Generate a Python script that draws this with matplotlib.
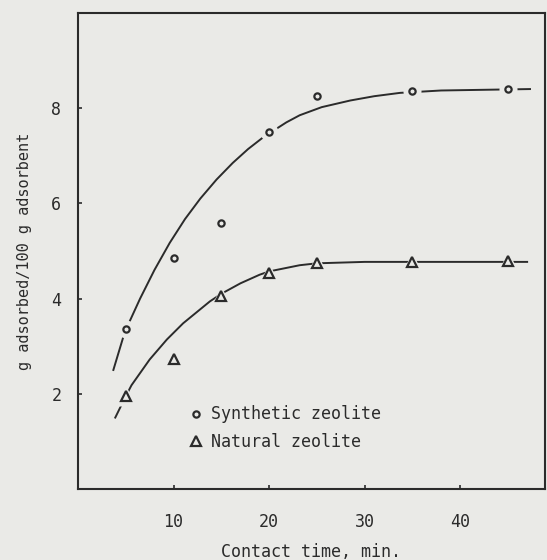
from matplotlib import pyplot as plt
from matplotlib.lines import Line2D

# measured points
time = [5, 10, 15, 20, 25, 35, 45]
synthetic = [3.35, 4.85, 5.58, 7.5, 8.25, 8.35, 8.4]
natural = [1.95, 2.72, 4.05, 4.53, 4.75, 4.77, 4.78]

# hand-drawn fitted curves
syn_fit_t = [3.7, 4.9, 6.5, 8.0, 9.6, 11.2, 12.8, 14.5, 16.2, 17.8, 19.4,
             21.8, 23.2, 25.5, 28.5, 31.0, 33.7, 38.0, 47.3]
syn_fit_y = [2.5, 3.3, 4.0, 4.6, 5.17, 5.67, 6.1, 6.5, 6.85, 7.14, 7.39,
             7.7, 7.85, 8.02, 8.16, 8.25, 8.32, 8.37, 8.4]
nat_fit_t = [3.9, 5.0, 5.6, 7.5, 9.3, 11.0, 13.8, 15.0, 17.0, 19.0, 20.0,
             23.2, 25.0, 30.0, 47.0]
nat_fit_y = [1.5, 1.95, 2.18, 2.72, 3.14, 3.48, 3.94, 4.1, 4.32, 4.5, 4.57,
             4.7, 4.74, 4.77, 4.77]

xticks = [10, 20, 30, 40]
yticks = [2, 4, 6, 8]

paper = '#eaeae7'
ink = '#2b2b2b'
plt.rcParams['font.family'] = ['DejaVu Sans Mono']

fig = plt.figure(figsize=(5.47, 5.6), dpi=100, facecolor=paper)
ax = fig.add_axes([0.1426, 0.1268, 0.8534, 0.8502], facecolor=paper)

ax.plot(syn_fit_t, syn_fit_y, color=ink, lw=1.4, zorder=2)
ax.plot(nat_fit_t, nat_fit_y, color=ink, lw=1.4, zorder=2)

# blank halo under markers so the curve breaks around them
ax.plot(time, synthetic, ls='none', marker='o', ms=13, mfc=paper, mec='none', zorder=3)
ax.plot(time, natural, ls='none', marker='^', ms=15, mfc=paper, mec='none', zorder=3)
ax.plot(time, synthetic, ls='none', marker='o', ms=4.5, mfc=paper, mec=ink, mew=1.6, zorder=4)
ax.plot(time, natural, ls='none', marker='^', ms=7, mfc=paper, mec=ink, mew=1.6, zorder=4)

ax.set_xlim(0, 48.85)
ax.set_ylim(0, 10)
ax.set_xticks(xticks)
ax.set_yticks(yticks)
ax.tick_params(direction='in', length=3, width=1.2, color=ink, labelcolor=ink, labelsize=12)
ax.tick_params(axis='x', pad=17)
ax.tick_params(axis='y', pad=12)
for s in ax.spines.values():
    s.set_linewidth(1.5)
    s.set_color(ink)

ax.set_xlabel('Contact time, min.', fontsize=12, color=ink, labelpad=9)
ax.set_ylabel('g adsorbed/100 g adsorbent', fontsize=11, color=ink, labelpad=14)

handles = [Line2D([], [], ls='none', marker='o', ms=4.5, mfc=paper, mec=ink, mew=1.6),
           Line2D([], [], ls='none', marker='^', ms=7, mfc=paper, mec=ink, mew=1.6)]
ax.legend(handles, ['Synthetic zeolite', 'Natural zeolite'], loc='center left',
          bbox_to_anchor=(0.235, 0.128), frameon=False, handlelength=1.0,
          handletextpad=0.4, labelspacing=0.55, borderpad=0, borderaxespad=0,
          prop={'size': 12}, labelcolor=ink)

fig.savefig('out.png', dpi=100, facecolor=paper)
